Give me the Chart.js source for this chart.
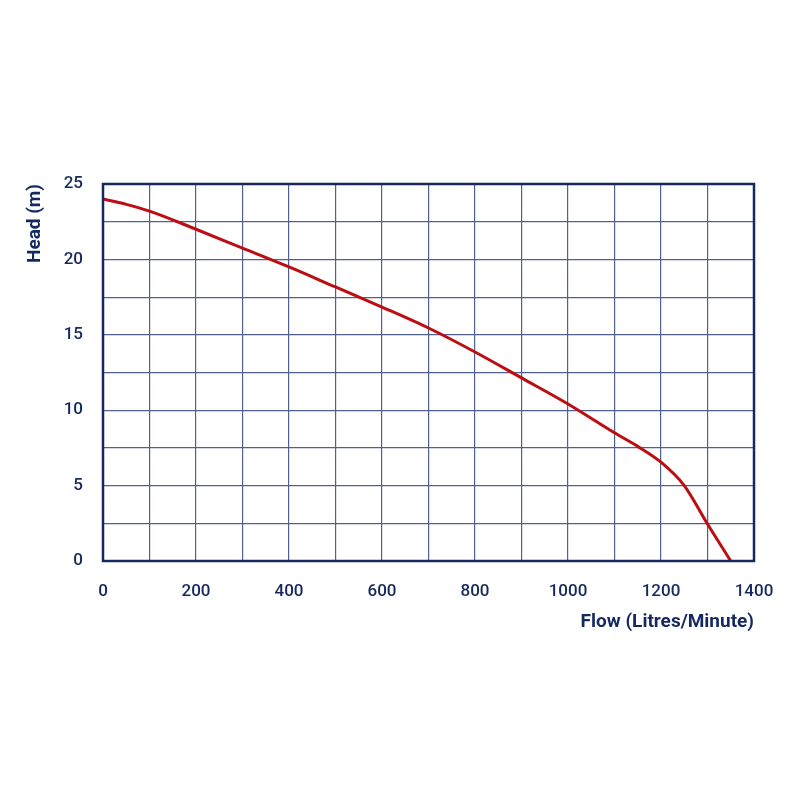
<!DOCTYPE html>
<html>
<head>
<meta charset="utf-8">
<script src="https://cdn.jsdelivr.net/npm/chart.js@4"></script>
<style>
  html, body { margin: 0; padding: 0; background: #fff; }
  #wrap { width: 800px; height: 800px; }
</style>
</head>
<body>
<div id="wrap"><canvas id="pump"></canvas></div>
<script>
// flow (L/min) vs head (m)
const flow = [0, 50, 100, 200, 300, 400, 500, 600, 700, 800, 900, 1000, 1100, 1150, 1200, 1250, 1300, 1350];
const head = [24.0, 23.65, 23.2, 22.0, 20.75, 19.5, 18.17, 16.84, 15.45, 13.86, 12.14, 10.41, 8.5, 7.6, 6.55, 5.0, 2.45, 0];
const xTitle = 'Flow (Litres/Minute)';
const yTitle = 'Head (m)';

const navy = '#15295e';
const gridColor = '#50608f';

const frame = {
  id: 'frame',
  afterDraw(chart) {
    const { ctx, chartArea: a } = chart;
    ctx.save();
    ctx.strokeStyle = navy;
    ctx.lineWidth = 2.5;
    ctx.strokeRect(a.left, a.top, a.right - a.left, a.bottom - a.top);
    ctx.restore();
  }
};

new Chart(document.getElementById('pump'), {
  type: 'line',
  data: {
    datasets: [{
      data: flow.map((f, i) => ({ x: f, y: head[i] })),
      borderColor: '#bb0d12',
      borderWidth: 3,
      pointRadius: 0,
      cubicInterpolationMode: 'monotone',
      fill: false
    }]
  },
  options: {
    responsive: true,
    maintainAspectRatio: false,
    animation: false,
    layout: { padding: { left: 24, top: 184, right: 46, bottom: 166 } },
    plugins: { legend: { display: false }, tooltip: { enabled: false } },
    scales: {
      x: {
        type: 'linear',
        min: 0,
        max: 1400,
        afterFit(s) { s.height = 73; },
        grid: { color: gridColor, lineWidth: 1.2, drawTicks: false },
        border: { display: false },
        ticks: {
          stepSize: 100,
          padding: 21,
          color: navy,
          font: { family: 'Roboto', size: 17, weight: '500' },
          callback: v => (v % 200 === 0 ? v : '')
        },
        title: {
          display: true,
          text: xTitle,
          align: 'end',
          color: navy,
          padding: 0,
          font: { family: 'Roboto', size: 19, weight: 'bold' }
        }
      },
      y: {
        min: 0,
        max: 25,
        afterFit(s) { s.width = 79; },
        grid: { color: gridColor, lineWidth: 1.2, drawTicks: false },
        border: { display: false },
        ticks: {
          stepSize: 2.5,
          padding: 20,
          color: navy,
          font: { family: 'Roboto', size: 17, weight: '500' },
          callback: v => (v % 5 === 0 ? v : '')
        },
        title: {
          display: true,
          text: yTitle,
          align: 'end',
          color: navy,
          padding: 0,
          font: { family: 'Roboto', size: 19, weight: 'bold' }
        }
      }
    }
  },
  plugins: [frame]
});
</script>
</body>
</html>
